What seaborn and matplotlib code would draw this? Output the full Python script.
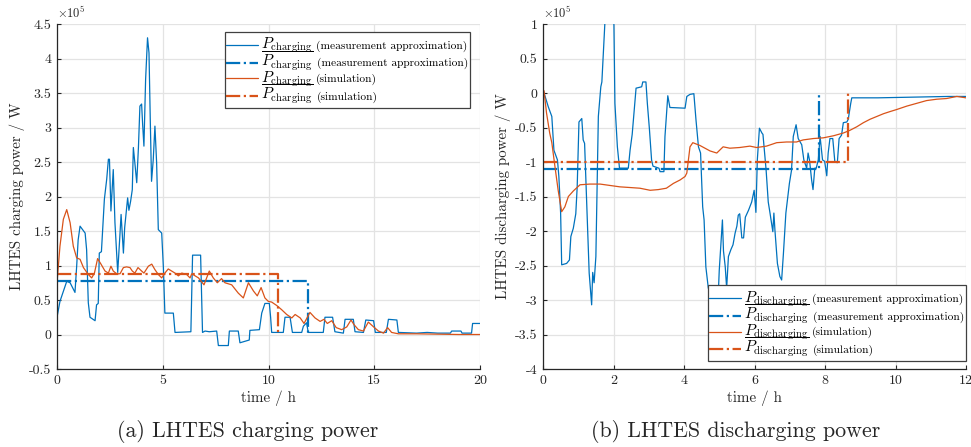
import matplotlib
matplotlib.use("Agg")
import matplotlib.pyplot as plt
import seaborn as sns
import pandas as pd
from matplotlib.ticker import FuncFormatter, FixedLocator
from matplotlib.lines import Line2D
from matplotlib.offsetbox import AnchoredOffsetbox, HPacker, VPacker, TextArea, DrawingArea

# Power values are given in units of 1e5 W, time in hours.

# Charging: measured approximation (time, power)
charge_meas = [
    (0, 0.25), (0.14, 0.48), (0.46, 0.77), (0.62, 0.75), (0.85, 0.61), (0.93, 0.99),
    (1.0, 1.37), (1.09, 1.57), (1.33, 1.47), (1.40, 1.23), (1.48, 0.46), (1.56, 0.25),
    (1.8, 0.2), (1.87, 0.43), (1.95, 0.45), (2.0, 1.18), (2.1, 1.2), (2.24, 1.96),
    (2.35, 2.25), (2.43, 2.54), (2.48, 2.54), (2.55, 1.79), (2.66, 2.39), (2.74, 1.62),
    (2.87, 0.9), (2.98, 1.47), (3.03, 1.74), (3.14, 1.18), (3.2, 1.55), (3.34, 1.98),
    (3.4, 1.8), (3.48, 1.93), (3.56, 2.10), (3.61, 2.71), (3.68, 2.49), (3.77, 2.2),
    (3.85, 2.71), (3.92, 3.31), (4.0, 3.34), (4.05, 3.04), (4.11, 2.73), (4.19, 3.7),
    (4.28, 4.3), (4.35, 4.08), (4.41, 3.11), (4.47, 2.22), (4.55, 2.53), (4.63, 3.02),
    (4.71, 2.49), (4.79, 1.52), (4.95, 1.47), (5.03, 0.97), (5.1, 0.31), (5.5, 0.31),
    (5.58, 0.03), (6.33, 0.04), (6.41, 1.15), (6.79, 1.15), (6.88, 0.03), (7.0, 0.05),
    (7.2, 0.04), (7.55, 0.05), (7.63, -0.16), (8.10, -0.16), (8.15, 0.05), (8.57, 0.05),
    (8.65, -0.12), (9.09, -0.08), (9.12, 0.06), (9.57, 0.07), (9.68, 0.31), (9.83, 0.45),
    (10.04, 0.45), (10.10, 0.25), (10.15, 0.03), (10.70, 0.03), (10.78, 0.25), (11.02, 0.25),
    (11.13, 0.03), (11.57, 0.03), (11.65, 0.12), (11.80, 0.17), (11.88, 0.03), (12.59, 0.03),
    (12.67, 0.25), (13.03, 0.25), (13.14, 0.04), (13.54, 0.02), (13.62, 0.22), (14.01, 0.22),
    (14.09, 0.04), (14.49, 0.03), (14.6, 0.21), (14.97, 0.20), (15.05, 0.03), (15.57, 0.03),
    (15.67, 0.22), (16.07, 0.21), (16.14, 0.03), (17.0, 0.02), (17.5, 0.03), (18.0, 0.02),
    (18.6, 0.02), (18.66, 0.05), (19.1, 0.05), (19.15, 0.02), (19.6, 0.02), (19.65, 0.16),
    (20.0, 0.16),
]

# Charging: simulation (time, power)
charge_sim = [
    (0, 0.75), (0.14, 1.28), (0.3, 1.67), (0.46, 1.81), (0.62, 1.62), (0.77, 1.28),
    (0.93, 1.11), (1.09, 1.09), (1.25, 0.97), (1.48, 0.87), (1.64, 0.82), (1.77, 0.89),
    (1.92, 1.10), (2.08, 1.02), (2.27, 0.92), (2.43, 0.89), (2.55, 0.99), (2.66, 0.92),
    (2.82, 0.88), (2.98, 0.88), (3.14, 0.97), (3.29, 0.98), (3.45, 0.97), (3.56, 0.92),
    (3.68, 0.89), (3.83, 0.97), (4.0, 0.92), (4.11, 0.89), (4.32, 0.99), (4.48, 1.02),
    (4.63, 0.94), (4.79, 0.87), (4.95, 0.82), (5.1, 0.89), (5.26, 0.95), (5.42, 0.92),
    (5.58, 0.89), (5.74, 0.85), (5.9, 0.89), (6.13, 0.87), (6.29, 0.82), (6.37, 0.88),
    (6.69, 0.82), (6.95, 0.72), (7.2, 0.92), (7.39, 0.82), (7.58, 0.75), (7.78, 0.81),
    (7.94, 0.75), (8.26, 0.72), (8.57, 0.60), (8.81, 0.53), (9.05, 0.75), (9.29, 0.63),
    (9.47, 0.56), (9.65, 0.68), (9.83, 0.53), (9.99, 0.48), (10.15, 0.47), (10.39, 0.42),
    (10.62, 0.36), (10.86, 0.29), (11.1, 0.24), (11.26, 0.29), (11.5, 0.24), (11.68, 0.16),
    (11.96, 0.32), (12.2, 0.24), (12.44, 0.19), (12.62, 0.22), (12.78, 0.16), (12.99, 0.20),
    (13.2, 0.10), (13.46, 0.07), (13.7, 0.11), (13.9, 0.21), (14.05, 0.14), (14.25, 0.07),
    (14.49, 0.05), (14.72, 0.18), (14.97, 0.11), (15.2, 0.05), (15.44, 0.02), (15.63, 0.10),
    (15.82, 0.03), (16.14, 0.01), (17.0, 0.01), (18.0, 0.005), (19.0, 0.0), (20.0, 0.0),
]

# Mean charging power and end of the charging period
charge_meas_mean, charge_meas_end = 0.77, 11.85
charge_sim_mean, charge_sim_end = 0.88, 10.43

# Discharging: measured approximation (time, power)
discharge_meas = [
    (0.0, 0.03), (0.03, 0.0), (0.15, -0.2), (0.25, -0.34), (0.31, -0.83), (0.41, -0.97),
    (0.45, -1.21), (0.5, -1.74), (0.53, -2.49), (0.67, -2.47), (0.75, -2.42), (0.79, -2.08),
    (0.86, -1.96), (0.93, -1.75), (0.97, -1.36), (1.02, -0.42), (1.1, -0.37), (1.14, -0.68),
    (1.18, -0.73), (1.24, -1.6), (1.31, -2.61), (1.38, -3.07), (1.41, -2.6), (1.45, -2.75),
    (1.5, -2.37), (1.57, -0.34), (1.64, 0.09), (1.67, 0.16), (1.76, 1.06), (1.88, 1.6),
    (2.01, 1.06), (2.04, -0.15), (2.11, -0.78), (2.17, -1.09), (2.42, -1.09), (2.47, -0.83),
    (2.53, -0.6), (2.64, 0.07), (2.8, 0.09), (2.83, 0.16), (2.92, 0.16), (2.96, -0.15),
    (3.02, -0.53), (3.08, -0.97), (3.12, -1.06), (3.29, -1.09), (3.32, -1.14), (3.43, -1.14),
    (3.46, -0.63), (3.54, -0.04), (3.6, -0.21), (4.03, -0.22), (4.08, -0.05), (4.17, -0.02),
    (4.28, -0.01), (4.34, -0.39), (4.41, -0.78), (4.47, -0.87), (4.53, -1.65), (4.57, -1.84),
    (4.62, -2.52), (4.69, -2.83), (4.93, -2.86), (4.97, -2.95), (5.0, -2.57), (5.09, -1.84),
    (5.12, -2.29), (5.17, -2.52), (5.21, -2.83), (5.26, -2.37), (5.33, -2.27), (5.39, -2.2),
    (5.45, -2.03), (5.5, -1.93), (5.54, -1.77), (5.58, -1.75), (5.64, -2.1), (5.69, -2.1),
    (5.74, -1.8), (5.83, -1.7), (5.92, -1.58), (5.99, -1.41), (6.04, -1.73), (6.08, -0.97),
    (6.14, -0.51), (6.21, -0.58), (6.24, -0.6), (6.33, -1.12), (6.39, -1.58), (6.44, -1.74),
    (6.52, -2.01), (6.55, -1.74), (6.58, -1.99), (6.65, -2.47), (6.72, -2.66), (6.77, -2.71),
    (6.82, -2.33), (6.89, -1.74), (6.99, -1.31), (7.05, -1.12), (7.1, -0.63), (7.18, -0.46),
    (7.24, -0.66), (7.34, -0.75), (7.4, -0.97), (7.48, -1.09), (7.52, -0.87), (7.56, -0.97),
    (7.62, -1.26), (7.66, -1.4), (7.71, -1.09), (7.75, -1.09), (7.81, -0.97), (7.86, -0.63),
    (7.93, -0.97), (7.99, -0.99), (8.05, -1.2), (8.09, -0.87), (8.14, -0.66), (8.22, -0.66),
    (8.28, -1.0), (8.35, -1.01), (8.4, -0.66), (8.47, -0.61), (8.52, -0.43), (8.62, -0.42),
    (8.66, -0.38), (8.73, -0.15), (8.76, -0.07), (9.5, -0.07), (10.5, -0.06), (11.5, -0.05),
    (12.0, -0.05),
]

# Discharging: simulation (time, power)
discharge_sim = [
    (0.0, 0.05), (0.03, 0.03), (0.1, -0.29), (0.19, -0.58), (0.25, -0.72), (0.34, -1.07),
    (0.43, -1.41), (0.53, -1.72), (0.62, -1.65), (0.72, -1.5), (0.86, -1.42), (1.05, -1.33),
    (1.33, -1.32), (1.62, -1.32), (1.9, -1.34), (2.18, -1.36), (2.47, -1.37), (2.75, -1.38),
    (3.04, -1.41), (3.27, -1.40), (3.5, -1.38), (3.7, -1.31), (3.89, -1.26), (4.03, -1.21),
    (4.08, -1.16), (4.17, -0.78), (4.25, -0.72), (4.45, -0.76), (4.74, -0.84), (4.93, -0.87),
    (5.11, -0.78), (5.3, -0.8), (5.58, -0.79), (5.87, -0.77), (6.06, -0.79), (6.34, -0.77),
    (6.63, -0.72), (6.91, -0.71), (7.19, -0.71), (7.38, -0.68), (7.67, -0.66), (7.95, -0.65),
    (8.24, -0.62), (8.52, -0.58), (8.71, -0.54), (8.9, -0.49), (9.09, -0.43), (9.28, -0.38),
    (9.47, -0.34), (9.66, -0.3), (9.84, -0.27), (10.03, -0.24), (10.32, -0.19), (10.6, -0.15),
    (10.88, -0.11), (11.17, -0.09), (11.45, -0.08), (11.74, -0.05), (12.0, -0.07),
]

# Mean discharging power and end of the discharging period
discharge_meas_mean, discharge_meas_end = -1.1, 7.84
discharge_sim_mean, discharge_sim_end = -1.0, 8.64

BLUE = "#0072BD"
ORANGE = "#D95319"
INK = "#262626"

sns.set_theme(style="white")
plt.rcParams.update({
    "font.family": "serif",
    "font.serif": ["cmr10", "DejaVu Serif"],
    "mathtext.fontset": "cm",
    "axes.unicode_minus": False,
    "axes.formatter.use_mathtext": True,
})


def series(pairs):
    return pd.DataFrame(pairs, columns=["t", "p"])


def mean_step(mean, end):
    return pd.DataFrame({"t": [0.0, end, end], "p": [mean, mean, 0.0]})


def legend_box(ax, entries, loc, anchor):
    """Legend with a larger symbol part and a smaller plain-text note per row."""
    rows = []
    for color, lw, ls, sym, note in entries:
        # the handle area fixes the row height so that all rows are evenly spaced
        da = DrawingArea(23, 16, 0, 5)
        da.add_artist(Line2D([0, 23], [2.6, 2.6], color=color, lw=lw, ls=ls))
        sym_t = TextArea(sym, textprops=dict(fontsize=11, color="black"))
        note_t = TextArea(note, textprops=dict(fontsize=8.2, color="black"))
        rows.append(HPacker(children=[da, sym_t, note_t], align="baseline", pad=0, sep=2.2))
    box = VPacker(children=rows, align="left", pad=0, sep=-4.6)
    anchored = AnchoredOffsetbox(loc=loc, child=box, pad=0.1, borderpad=0.0,
                                 bbox_to_anchor=anchor, bbox_transform=ax.transAxes,
                                 frameon=True)
    anchored.patch.set_boxstyle("square", pad=0)
    anchored.patch.set_edgecolor("#404040")
    anchored.patch.set_linewidth(0.9)
    anchored.patch.set_facecolor("white")
    anchored.set_zorder(10)
    ax.add_artist(anchored)


def draw(ax, meas, sim, m_mean, m_end, s_mean, s_end, sub, xlim, xticks, ylim, yticks,
         ylabel, legend_loc, legend_anchor):
    sns.lineplot(data=series(meas), x="t", y="p", ax=ax, color=BLUE, lw=0.9,
                 estimator=None, sort=False, legend=False)
    sns.lineplot(data=mean_step(m_mean, m_end), x="t", y="p", ax=ax, color=BLUE, lw=1.6,
                 linestyle="-.", estimator=None, sort=False, legend=False)
    sns.lineplot(data=series(sim), x="t", y="p", ax=ax, color=ORANGE, lw=0.9,
                 estimator=None, sort=False, legend=False)
    sns.lineplot(data=mean_step(s_mean, s_end), x="t", y="p", ax=ax, color=ORANGE, lw=1.6,
                 linestyle="-.", estimator=None, sort=False, legend=False)

    ax.set_xlim(*xlim)
    ax.set_ylim(*ylim)
    ax.xaxis.set_major_locator(FixedLocator(xticks))
    ax.yaxis.set_major_locator(FixedLocator(yticks))
    ax.yaxis.set_major_formatter(FuncFormatter(lambda v, _: "%g" % v))
    ax.xaxis.set_major_formatter(FuncFormatter(lambda v, _: "%g" % v))
    ax.grid(True, color="#e3e3e3", lw=0.9)
    ax.set_axisbelow(True)
    for s in ("top", "right"):
        ax.spines[s].set_visible(False)
    for s in ("left", "bottom"):
        ax.spines[s].set_color(INK)
        ax.spines[s].set_linewidth(0.9)
    ax.tick_params(direction="in", length=3, width=0.8, color=INK,
                   labelsize=10, labelcolor=INK, left=True, bottom=True, pad=4)
    ax.set_xlabel("time / h", fontsize=10.8, color=INK, labelpad=3)
    ax.set_ylabel(ylabel, fontsize=10.8, color=INK, labelpad=3)
    ax.text(0.0, 1.008, r"$\times 10^{5}$", transform=ax.transAxes, fontsize=9,
            color=INK, ha="left", va="bottom")

    legend_box(ax, [
        (BLUE, 0.9, "-", r"$P_{\mathrm{%s}}$" % sub, "(measurement approximation)"),
        (BLUE, 1.6, "-.", r"$\overline{P_{\mathrm{%s}}}$" % sub, "(measurement approximation)"),
        (ORANGE, 0.9, "-", r"$P_{\mathrm{%s}}$" % sub, "(simulation)"),
        (ORANGE, 1.6, "-.", r"$\overline{P_{\mathrm{%s}}}$" % sub, "(simulation)"),
    ], legend_loc, legend_anchor)


fig = plt.figure(figsize=(9.71, 4.47), dpi=100)
ax1 = fig.add_axes([57 / 971, 1 - 369 / 447, 423 / 971, 345 / 447])
ax2 = fig.add_axes([543 / 971, 1 - 369 / 447, 423 / 971, 345 / 447])

draw(ax1, charge_meas, charge_sim, charge_meas_mean, charge_meas_end,
     charge_sim_mean, charge_sim_end, "charging",
     (0, 20), [0, 5, 10, 15, 20], (-0.5, 4.5),
     [-0.5, 0, 0.5, 1, 1.5, 2, 2.5, 3, 3.5, 4, 4.5],
     "LHTES charging power / W", "upper right", (0.976, 0.977))

draw(ax2, discharge_meas, discharge_sim, discharge_meas_mean, discharge_meas_end,
     discharge_sim_mean, discharge_sim_end, "discharging",
     (0, 12), [0, 2, 4, 6, 8, 10, 12], (-4, 1),
     [-4, -3.5, -3, -2.5, -2, -1.5, -1, -0.5, 0, 0.5, 1],
     "LHTES discharging power / W", "lower right", (1.0, 0.023))

fig.text(0.255, 0.034, "(a) LHTES charging power", ha="center", va="center", fontsize=15.8)
fig.text(0.758, 0.034, "(b) LHTES discharging power", ha="center", va="center", fontsize=15.8)

fig.savefig("out.png", dpi=100)
